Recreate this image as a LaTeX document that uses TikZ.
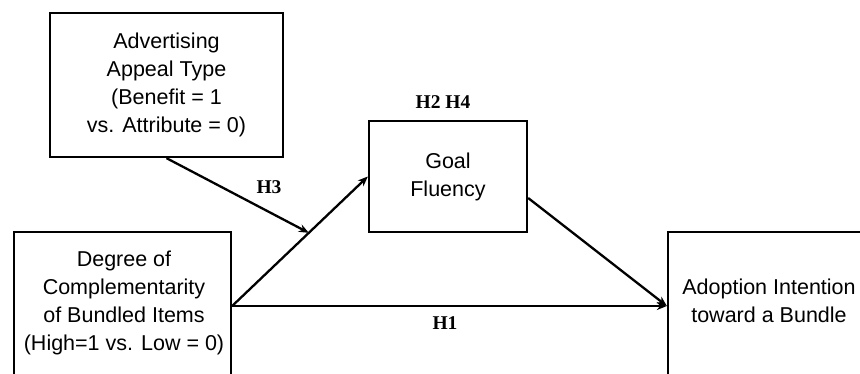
\documentclass[tikz,border=0pt]{standalone}
\usepackage{fontspec}
\setmainfont{Liberation Sans}
\newfontfamily\hfont{Liberation Serif}
\usetikzlibrary{arrows.meta,calc}
\begin{document}
\begin{tikzpicture}[x=1pt,y=1pt,
  box/.style={draw,line width=2.3pt,inner sep=0pt},
  boxtext/.style={align=center,font=\fontsize{21.5}{28}\selectfont},
  hyp/.style={font=\hfont\bfseries\fontsize{19.5}{22}\selectfont},
  arr/.style={line width=2.3pt,-{Stealth[length=10pt,width=8pt]}}]
\clip (0,0) rectangle (860,373);
\fill[white] (0,0) rectangle (860,373);
% variables
\node[box,minimum width=233,minimum height=144] (adv) at (166.5,288) {};
\node[boxtext] (advt) at (166.5,288) {Advertising\\Appeal Type\\(Benefit = 1\\vs. Attribute = 0)};
\node[box,minimum width=217,minimum height=148] (dcb) at (122.5,67) {};
\node[boxtext] (dcbt) at (124,70) {Degree of\\Complementarity\\of Bundled Items\\(High=1 vs. Low = 0)};
\node[box,minimum width=158,minimum height=111] (goal) at (448,196.5) {};
\node[boxtext] (goalt) at (448,196) {Goal\\Fluency};
\node[box,minimum width=202,minimum height=148] (adopt) at (769,67) {};
\node[boxtext] (adoptt) at (769,72) {Adoption Intention\\toward a Bundle};
% paths
\coordinate (mod) at ($(dcb.east)!0.565!(goal.west)$);
\draw[arr] (dcb.east) -- (goal.west);
\draw[arr] (dcb.east) -- (adopt.west);
\draw[arr] ([yshift=-21.5pt]goal.east) -- (adopt.west);
\draw[arr] (adv.south) -- (mod);
% hypothesis labels
\node[hyp] (h1) at (445,50) {H1};
\node[hyp] (h24) at (443,271) {H2 H4};
\node[hyp] (h3) at (269,186) {H3};
\end{tikzpicture}
\end{document}
